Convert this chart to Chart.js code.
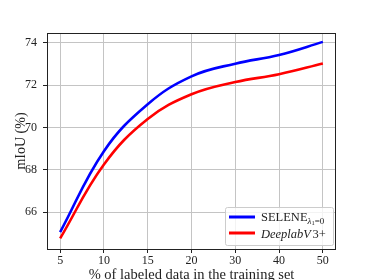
<!DOCTYPE html>
<html>
<head>
<meta charset="utf-8">
<script src="https://cdn.jsdelivr.net/npm/chart.js@4"></script>
<style>
  html, body { margin: 0; padding: 0; background: #fff; }
</style>
</head>
<body>
<canvas id="chart" width="374" height="280"></canvas>
<script>
// x positions are evenly spaced in the figure, labels are what matters
const xLabels = ['5', '10', '15', '20', '30', '40', '50'];
const seleneValues = [65.05, 68.88, 71.1, 72.42, 73.02, 73.43, 74.05];
const deeplabValues = [64.75, 68.25, 70.4, 71.57, 72.15, 72.52, 73.03];
const yTicks = [66, 68, 70, 72, 74];

const serif = "'Liberation Serif', 'DejaVu Serif', serif";
const textColor = '#222';

function toPoints(values) {
    return values.map((v, i) => ({ x: i, y: v }));
}

// frame around the plot area, like matplotlib spines
const framePlugin = {
    id: 'frame',
    afterDatasetsDraw(chart) {
        const { ctx, chartArea: a } = chart;
        ctx.save();
        ctx.strokeStyle = '#222';
        ctx.lineWidth = 1;
        ctx.strokeRect(Math.round(a.left) + 0.5, Math.round(a.top) + 0.5,
            Math.round(a.right - a.left) - 1, Math.round(a.bottom - a.top));
        ctx.restore();
    }
};

// legend with a subscript, drawn by hand
const legendPlugin = {
    id: 'subLegend',
    afterDraw(chart) {
        const ctx = chart.ctx;
        const a = chart.chartArea;
        const boxW = 108, boxH = 38;
        const bx = a.right - 3 - boxW, by = a.bottom - 4 - boxH;
        ctx.save();
        ctx.fillStyle = 'rgba(255,255,255,0.8)';
        ctx.strokeStyle = '#cccccc';
        ctx.lineWidth = 1;
        ctx.beginPath();
        ctx.roundRect(bx + 0.5, by + 0.5, boxW, boxH, 2);
        ctx.fill();
        ctx.stroke();

        const rows = [
            { color: 'blue', y: by + 10 },
            { color: 'red', y: by + 26 }
        ];
        rows.forEach(r => {
            ctx.strokeStyle = r.color;
            ctx.lineWidth = 3;
            ctx.beginPath();
            ctx.moveTo(bx + 4, r.y);
            ctx.lineTo(bx + 30, r.y);
            ctx.stroke();
        });

        ctx.fillStyle = textColor;
        ctx.textBaseline = 'alphabetic';
        let tx = bx + 36;
        ctx.font = '12.5px ' + serif;
        ctx.fillText('SELENE', tx, rows[0].y + 4);
        tx += ctx.measureText('SELENE').width;
        ctx.font = 'italic 9px ' + serif;
        ctx.fillText('λ', tx, rows[0].y + 6.5);
        tx += ctx.measureText('λ').width;
        ctx.font = '6.5px ' + serif;
        ctx.fillText('1', tx, rows[0].y + 8);
        tx += ctx.measureText('1').width;
        ctx.font = '9px ' + serif;
        ctx.fillText('=0', tx, rows[0].y + 6.5);

        tx = bx + 36;
        ctx.font = 'italic 12.5px ' + serif;
        ctx.fillText('DeeplabV', tx, rows[1].y + 4.5);
        tx += ctx.measureText('DeeplabV').width + 1.5;
        ctx.font = '12.5px ' + serif;
        ctx.fillText('3+', tx, rows[1].y + 4.5);
        ctx.restore();
    }
};

const ctx = document.getElementById('chart').getContext('2d');
new Chart(ctx, {
    type: 'line',
    data: {
        datasets: [
            {
                label: 'SELENE',
                data: toPoints(seleneValues),
                borderColor: 'blue',
                borderWidth: 2.6,
                pointRadius: 0,
                tension: 0.4,
                fill: false
            },
            {
                label: 'DeeplabV3+',
                data: toPoints(deeplabValues),
                borderColor: 'red',
                borderWidth: 2.6,
                pointRadius: 0,
                tension: 0.4,
                fill: false
            }
        ]
    },
    options: {
        responsive: false,
        animation: false,
        layout: { padding: { left: 0, top: 33, right: 38, bottom: 0 } },
        plugins: {
            legend: { display: false },
            tooltip: { enabled: false }
        },
        scales: {
            x: {
                type: 'linear',
                min: -0.3,
                max: 6.3,
                afterBuildTicks: (scale) => {
                    scale.ticks = xLabels.map((_, i) => ({ value: i }));
                },
                afterFit: (scale) => { scale.height = 31; },
                ticks: {
                    callback: (value) => xLabels[value],
                    font: { family: serif, size: 12 },
                    color: textColor,
                    padding: 1,
                    maxRotation: 0
                },
                grid: { color: '#c4c4c4', tickColor: '#222', tickLength: 4 },
                border: { display: false },
                title: {
                    display: true,
                    text: '% of labeled data in the training set',
                    font: { family: serif, size: 14.5, lineHeight: 1 },
                    color: textColor,
                    padding: { top: -2, bottom: -2 }
                }
            },
            y: {
                min: 64.25,
                max: 74.47,
                afterBuildTicks: (scale) => {
                    scale.ticks = yTicks.map(v => ({ value: v }));
                },
                afterFit: (scale) => { scale.width = 47; },
                ticks: {
                    font: { family: serif, size: 12 },
                    color: textColor,
                    padding: 6
                },
                grid: { color: '#c4c4c4', tickColor: '#222', tickLength: 4 },
                border: { display: false },
                title: {
                    display: true,
                    text: 'mIoU (%)',
                    font: { family: serif, size: 14, lineHeight: 1 },
                    color: textColor,
                    padding: { top: 14, bottom: 0 }
                }
            }
        }
    },
    plugins: [framePlugin, legendPlugin]
});
</script>
</body>
</html>
